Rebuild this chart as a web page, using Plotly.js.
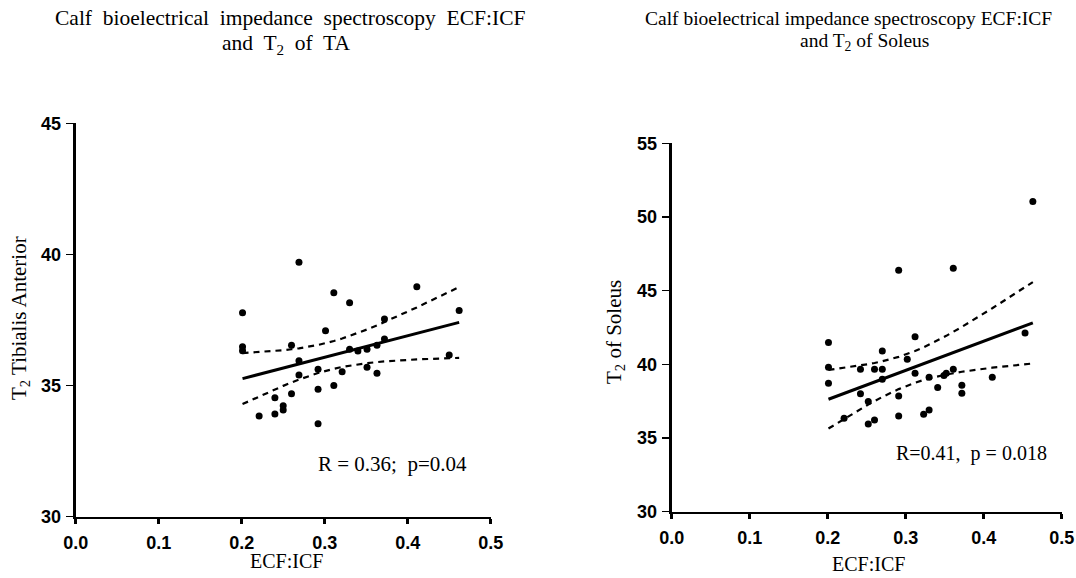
<!DOCTYPE html>
<html><head><meta charset="utf-8">
<script src="https://cdn.plot.ly/plotly-3.0.1.min.js"></script>
<style>html,body{margin:0;padding:0;background:#fff}#chart{width:1076px;height:578px}</style>
</head><body><div id="chart"></div>
<script>
// ---- Data ----
const taECF = [0.201,0.201,0.201,0.269,0.311,0.330,0.411,0.462,0.301,0.260,0.269,0.372,0.372,0.330,0.340,0.351,
               0.363,0.450,0.269,0.292,0.292,0.321,0.351,0.363,0.311,0.260,0.240,0.250,0.250,0.221,0.240,0.292];
const taT2  = [37.78,36.48,36.33,39.70,38.54,38.16,38.77,37.86,37.09,36.54,35.95,37.54,36.78,36.38,36.32,36.38,
               36.54,36.17,35.40,35.62,34.86,35.53,35.70,35.47,35.00,34.69,34.54,34.23,34.07,33.84,33.92,33.54];
const solECF = [0.463,0.291,0.361,0.453,0.201,0.312,0.270,0.201,0.201,0.242,0.260,0.270,0.302,0.270,0.312,0.330,
                0.349,0.352,0.361,0.411,0.372,0.372,0.341,0.291,0.242,0.252,0.221,0.252,0.260,0.291,0.323,0.330];
const solT2  = [51.05,46.39,46.52,42.13,41.48,41.88,40.91,39.80,38.72,39.67,39.67,39.67,40.35,38.99,39.40,39.12,
                39.25,39.40,39.67,39.12,38.58,38.04,38.42,37.85,38.01,37.47,36.34,35.95,36.23,36.50,36.61,36.90];
const xTickVals = [0, 0.1, 0.2, 0.3, 0.4, 0.5];
const xTickText = ['0.0', '0.1', '0.2', '0.3', '0.4', '0.5'];
const taYTicks = [30, 35, 40, 45];
const solYTicks = [30, 35, 40, 45, 50, 55];
const titleTA = ['Calf  bioelectrical  impedance  spectroscopy  ECF:ICF', 'and  T<sub>2</sub>  of  TA'];
const titleSol = ['Calf bioelectrical impedance spectroscopy ECF:ICF', 'and T<sub>2</sub> of Soleus'];
const statTA = 'R = 0.36;  p=0.04';
const statSol = 'R=0.41,  p = 0.018';
const xLabel = 'ECF:ICF';
const yLabelTA = 'T<sub>2</sub> Tibialis Anterior';
const yLabelSol = 'T<sub>2</sub> of Soleus';

// ---- Linear regression with 95% confidence band of the mean ----
function tCrit(df) {
  const z = 1.959964;
  return z + (z*z*z + z) / (4*df) + (5*Math.pow(z,5) + 16*z*z*z + 3*z) / (96*df*df);
}
function regress(x, y) {
  const n = x.length;
  const mx = x.reduce((a,b)=>a+b,0)/n, my = y.reduce((a,b)=>a+b,0)/n;
  let sxx = 0, sxy = 0;
  for (let i=0;i<n;i++){ sxx += (x[i]-mx)*(x[i]-mx); sxy += (x[i]-mx)*(y[i]-my); }
  const b = sxy/sxx, a = my - b*mx;
  let sse = 0;
  for (let i=0;i<n;i++){ const r = y[i]-(a+b*x[i]); sse += r*r; }
  const s = Math.sqrt(sse/(n-2)), t = tCrit(n-2);
  const xs = Array.from(new Set(x)).sort((p,q)=>p-q);
  const fit = xs.map(v=>a+b*v);
  const half = xs.map(v=>t*s*Math.sqrt(1/n + (v-mx)*(v-mx)/sxx));
  return {xs, fit, lo: fit.map((v,i)=>v-half[i]), hi: fit.map((v,i)=>v+half[i])};
}

const rTA = regress(taECF, taT2), rSol = regress(solECF, solT2);

function traces(x, y, r, xa, ya) {
  const dashed = {color:'black', width:2.2, dash:'6px,5px'};
  return [
    {x, y, xaxis:xa, yaxis:ya, type:'scatter', mode:'markers', marker:{color:'black', size:7}, hoverinfo:'x+y'},
    {x:r.xs, y:r.fit, xaxis:xa, yaxis:ya, type:'scatter', mode:'lines', line:{color:'black', width:3}},
    {x:r.xs, y:r.hi, xaxis:xa, yaxis:ya, type:'scatter', mode:'lines', line:dashed},
    {x:r.xs, y:r.lo, xaxis:xa, yaxis:ya, type:'scatter', mode:'lines', line:dashed}
  ];
}
const data = traces(taECF, taT2, rTA, 'x', 'y').concat(traces(solECF, solT2, rSol, 'x2', 'y2'));

const W = 1076, H = 578;
const px = v => v / W, py = v => 1 - v / H;
const tickFont = {family:'Liberation Sans, Arial, sans-serif', size:18, color:'black'};
const serif = 'Liberation Serif, Times New Roman, serif';
const bold = s => '<b>' + s + '</b>';

function xAxis(d0, d1, anchor, standoff) {
  return {domain:[px(d0), px(d1)], range:[0, 0.5], anchor, showline:true, linewidth:2, linecolor:'black',
    ticks:'outside', ticklen:5, tickwidth:3, tickcolor:'black', tickvals:xTickVals, ticktext:xTickText.map(bold),
    ticklabelstandoff:standoff, showgrid:false, zeroline:false, tickfont:tickFont, fixedrange:true};
}
function yAxis(top, bottom, range, ticks, anchor) {
  return {domain:[py(bottom), py(top)], range, anchor, showline:true, linewidth:3, linecolor:'black',
    ticks:'outside', ticklen:7, tickwidth:1.5, tickcolor:'black', tickvals:ticks, ticktext:ticks.map(v=>bold(String(v))),
    ticklabelstandoff:1, showgrid:false, zeroline:false, tickfont:tickFont, fixedrange:true};
}
function ann(text, x, y, size, extra) {
  return Object.assign({text, x:px(x), y:py(y), xref:'paper', yref:'paper', showarrow:false,
    xanchor:'center', yanchor:'middle', font:{family:serif, size, color:'black'}}, extra || {});
}

const layout = {
  width:W, height:H, margin:{l:0, r:0, t:0, b:0}, paper_bgcolor:'white', plot_bgcolor:'white', showlegend:false,
  xaxis: xAxis(75.7, 490.7, 'y', 4),
  yaxis: yAxis(123.3, 516.7, [30, 45], taYTicks, 'x'),
  xaxis2: xAxis(671.7, 1061.7, 'y2', 4),
  yaxis2: yAxis(143.3, 511.7, [30, 55], solYTicks, 'x2'),
  annotations: [
    ann(titleTA[0], 290, 18, 21.5),
    ann(titleTA[1], 286, 44, 21.5),
    ann(titleSol[0], 848, 18, 19.5),
    ann(titleSol[1], 864, 42, 19.5),
    ann(statTA, 392, 464, 21),
    ann(statSol, 971, 453, 20),
    ann(xLabel, 286, 561, 20),
    ann(xLabel, 868, 564, 20),
    ann(yLabelTA, 20, 318, 21, {textangle:-90}),
    ann(yLabelSol, 615, 332, 21, {textangle:-90})
  ]
};
Plotly.newPlot('chart', data, layout, {displayModeBar:false, staticPlot:true});
</script>
</body></html>
